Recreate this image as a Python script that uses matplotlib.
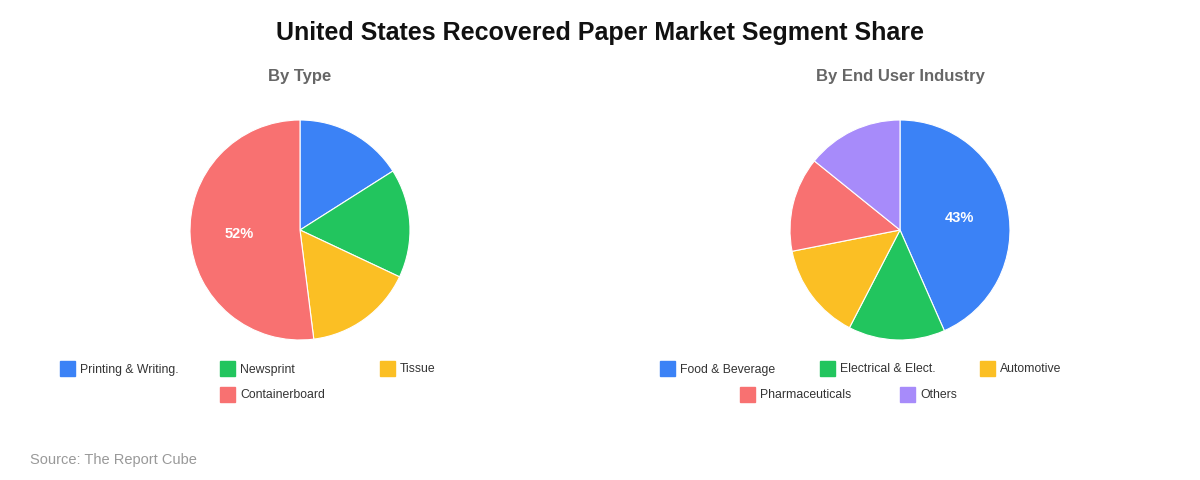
import matplotlib
matplotlib.use("Agg")
import matplotlib.pyplot as plt
from matplotlib.patches import Rectangle

plt.rcParams['font.family'] = ['Liberation Sans', 'DejaVu Sans']

title = "United States Recovered Paper Market Segment Share"
source = "Source: The Report Cube"

type_title = "By Type"
type_labels = ["Printing & Writing.", "Newsprint", "Tissue", "Containerboard"]
type_values = [16.0, 16.0, 16.0, 52.0]

ind_title = "By End User Industry"
ind_labels = ["Food & Beverage", "Electrical & Elect.", "Automotive", "Pharmaceuticals", "Others"]
ind_values = [43.4, 14.2, 14.3, 13.9, 14.2]

colors = ["#3b82f6", "#22c55e", "#fbbf24", "#f87171", "#a78bfa"]

W, H = 1200, 480
fig = plt.figure(figsize=(W / 100, H / 100), dpi=100)


def px_axes(cx, cy, r):
    return fig.add_axes([(cx - r) / W, (H - cy - r) / H, 2 * r / W, 2 * r / H])


def draw_pie(cx, cy, values, labels, subtitle, legend_rows):
    ax = px_axes(cx, cy, 110)

    def fmt(p):
        return f"{p:.0f}%" if p >= 20 else ""

    ax.pie(
        values, colors=colors[:len(values)], startangle=90, counterclock=False,
        radius=1.0, autopct=fmt, pctdistance=0.55,
        wedgeprops=dict(edgecolor="white", linewidth=0.8),
        textprops=dict(color="white", fontsize=10.5, fontweight="bold"))
    ax.set_xlim(-1, 1)
    ax.set_ylim(-1, 1)
    ax.set_aspect("equal")
    ax.axis("off")
    fig.text(cx / W, 1 - 77 / H, subtitle, ha="center", va="center",
             fontsize=12, fontweight="bold", color="#666666")
    idx = 0
    for row_y, xs in legend_rows:
        for x in xs:
            if idx >= len(labels):
                break
            fig.patches.append(Rectangle((x / W, 1 - (row_y + 7.5) / H), 15 / W, 15 / H,
                                         transform=fig.transFigure, color=colors[idx]))
            fig.text((x + 20) / W, 1 - (row_y + 1) / H, labels[idx], ha="left", va="center",
                     fontsize=8.8, color="#333333")
            idx += 1


fig.text(0.5, 1 - 33 / H, title, ha="center", va="center", fontsize=18,
         fontweight="bold", color="#111111")

draw_pie(300, 230, type_values, type_labels, type_title,
         [(368.5, [60, 220, 380]), (394.5, [220])])
draw_pie(900, 230, ind_values, ind_labels, ind_title,
         [(368.5, [660, 820, 980]), (394.5, [740, 900])])

fig.text(30 / W, 1 - 460 / H, source, ha="left", va="center", fontsize=10.5, color="#999999")

fig.savefig("out.png", dpi=100, facecolor="white")
